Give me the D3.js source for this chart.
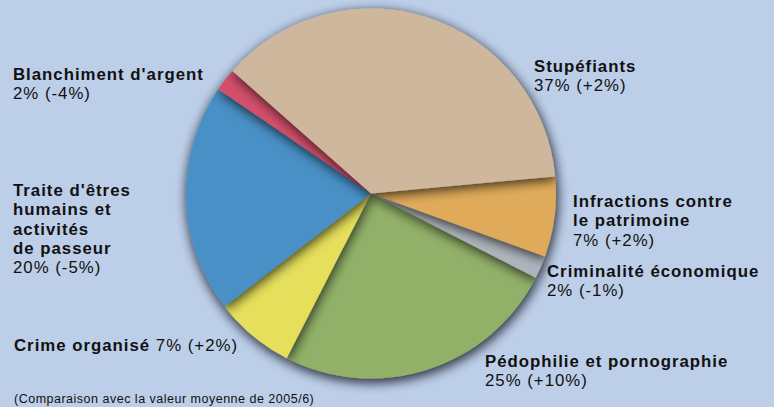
<!DOCTYPE html>
<html>
<head>
<meta charset="utf-8">
<script src="https://cdn.jsdelivr.net/npm/d3@7"></script>
<style>
  html, body { margin: 0; padding: 0; background: #bccee8; }
  svg { display: block; }
  text { font-family: "Liberation Sans", Arial, Helvetica, sans-serif; fill: #111; }
</style>
</head>
<body>
<svg id="chart" width="774" height="407"></svg>
<script>
// ---- data ----
const categories = [
  "Stupéfiants",
  "Infractions contre\nle patrimoine",
  "Criminalité économique",
  "Pédophilie et pornographie",
  "Crime organisé",
  "Traite d'êtres\nhumains et\nactivités\nde passeur",
  "Blanchiment d'argent"
];
const shares = [37, 7, 2, 25, 7, 20, 2];
const changes = ["+2%", "+2%", "-1%", "+10%", "+2%", "-5%", "-4%"];
const footnote = "(Comparaison avec la valeur moyenne de 2005/6)";

// ---- styling / layout ----
const colors = ["#cfb79e", "#dfab5a", "url(#greyGrad)", "#91b068", "#e5df5b", "#4a90c6", "#d24f6b"];
// drawing order (bottom -> top) so slices cast shadows on neighbours
const drawOrder = [3, 2, 1, 4, 5, 6, 0];
const labelLayout = [
  { x: 534, y: 72 },
  { x: 573, y: 207 },
  { x: 547, y: 277 },
  { x: 485, y: 367 },
  { x: 14,  y: 351, inline: true },
  { x: 13,  y: 196 },
  { x: 13,  y: 80 }
];
const lineH = 19.3;
const cx = 371, cy = 193.5, R = 185;
const startDeg = -48.5;

const svg = d3.select("#chart");
const defs = svg.append("defs");

const sh = defs.append("filter").attr("id", "sliceShadow")
  .attr("x", "-30%").attr("y", "-30%").attr("width", "160%").attr("height", "160%");
sh.append("feGaussianBlur").attr("in", "SourceAlpha").attr("stdDeviation", 6).attr("result", "b");
sh.append("feOffset").attr("in", "b").attr("dx", 1).attr("dy", 3).attr("result", "o");
sh.append("feComponentTransfer").attr("in", "o").attr("result", "oa")
  .append("feFuncA").attr("type", "linear").attr("slope", 0.75);
const m = sh.append("feMerge");
m.append("feMergeNode").attr("in", "oa");
m.append("feMergeNode").attr("in", "SourceGraphic");

const outer = defs.append("filter").attr("id", "outerShadow")
  .attr("x", "-30%").attr("y", "-30%").attr("width", "160%").attr("height", "160%");
outer.append("feGaussianBlur").attr("stdDeviation", 6);

const gg = defs.append("linearGradient").attr("id", "greyGrad")
  .attr("gradientUnits", "userSpaceOnUse")
  .attr("x1", 545).attr("y1", 255).attr("x2", 540).attr("y2", 278);
gg.append("stop").attr("offset", "0%").attr("stop-color", "#aeb4bc");
gg.append("stop").attr("offset", "100%").attr("stop-color", "#f4f6f8");

const g = svg.append("g").attr("transform", `translate(${cx},${cy})`);

// soft halo beneath pie
g.append("circle").attr("cx", 2).attr("cy", 5).attr("r", R)
  .attr("fill", "#5c6c86").attr("opacity", 0.45).attr("filter", "url(#outerShadow)");

const pie = d3.pie().sort(null).value(d => d)
  .startAngle(startDeg * Math.PI / 180)
  .endAngle(startDeg * Math.PI / 180 + 2 * Math.PI);
const arcs = pie(shares);
const arc = d3.arc().innerRadius(0).outerRadius(R);

g.selectAll("path.slice")
  .data(drawOrder.map(i => ({ a: arcs[i], i })))
  .join("path")
  .attr("class", "slice")
  .attr("d", d => arc(d.a))
  .attr("fill", d => colors[d.i])
  .attr("filter", "url(#sliceShadow)");

// labels
categories.forEach((name, i) => {
  const L = labelLayout[i];
  const t = svg.append("text").attr("x", L.x).attr("y", L.y)
    .style("font-size", "16.8px").style("letter-spacing", "1px");
  const lines = name.split("\n");
  const val = `${shares[i]}% (${changes[i]})`;
  if (L.inline) {
    t.append("tspan").attr("font-weight", "bold").text(lines[0] + " ");
    t.append("tspan").text(val);
  } else {
    lines.forEach((ln, k) => {
      t.append("tspan").attr("x", L.x).attr("dy", k === 0 ? 0 : lineH)
        .attr("font-weight", "bold").text(ln);
    });
    t.append("tspan").attr("x", L.x).attr("dy", lineH).text(val);
  }
});

svg.append("text").attr("x", 14).attr("y", 403)
  .style("font-size", "12.5px").style("letter-spacing", "0.5px").text(footnote);
</script>
</body>
</html>
